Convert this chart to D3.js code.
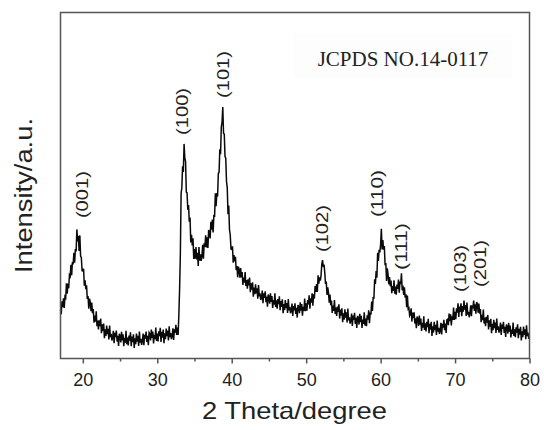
<!DOCTYPE html>
<html>
<head>
<meta charset="utf-8">
<script src="https://cdn.jsdelivr.net/npm/d3@7"></script>
<style>
  html, body { margin: 0; padding: 0; background: #fff; }
  svg { display: block; }
</style>
</head>
<body>
<svg id="chart" width="544" height="430"></svg>
<script>
// XRD scan: 2θ from 17° to 80°, step 0.1° (one row per degree)
const scanStart = 17;
const scanStep = 0.1;
const intensity = [
  146,133,172,154,181,152,186,182,226,195,   // 17
  225,211,251,247,282,250,290,283,318,288,   // 18
  329,322,388,352,369,323,370,308,303,264,   // 19
  263,270,219,235,208,220,179,188,150,180,   // 20
  169,142,168,136,149,108,129,111,142,97,    // 21
  114,87,115,97,120,76,103,83,105,61,        // 22
  88,68,99,73,89,57,99,64,74,54,             // 23
  62,83,46,77,64,84,51,68,38,74,             // 24
  68,48,80,54,73,37,62,48,83,43,             // 25
  63,39,69,54,79,37,66,49,73,32,             // 26
  61,43,75,51,68,38,81,48,59,41,             // 27
  53,75,40,71,60,81,50,68,40,78,             // 28
  74,54,87,62,81,45,71,58,93,53,             // 29
  75,51,82,67,92,50,80,63,87,46,             // 30
  76,58,90,67,84,54,97,64,76,58,             // 31
  68,91,56,88,78,101,71,93,71,133,           // 32
  210,314,496,514,578,561,645,602,592,500,   // 33
  498,447,461,411,424,349,372,340,361,299,   // 34
  329,300,335,298,318,278,335,294,313,293,   // 35
  309,342,300,346,336,370,334,364,332,386,   // 36
  379,361,411,387,418,379,429,428,497,458,   // 37
  497,487,556,560,629,614,696,710,756,677,   // 38
  674,607,602,532,513,434,460,387,372,329,   // 39
  328,337,288,311,292,306,266,278,244,276,   // 40
  266,243,272,244,260,221,243,228,260,218,   // 41
  236,210,238,220,243,199,226,207,229,186,   // 42
  213,193,223,196,211,180,221,187,196,176,   // 43
  183,204,166,196,182,202,169,186,156,192,   // 44
  186,165,196,170,188,152,176,162,196,155,   // 45
  175,150,179,163,187,145,173,155,178,136,   // 46
  164,145,176,151,167,137,179,145,155,136,   // 47
  144,165,128,158,145,166,134,152,123,161,   // 48
  156,136,169,144,164,129,155,143,180,142,   // 49
  166,144,176,163,190,150,181,168,196,159,   // 50
  193,180,218,200,224,200,250,225,244,234,   // 51
  250,284,296,275,282,258,224,231,191,214,   // 52
  197,168,192,160,174,137,159,143,176,134,   // 53
  153,128,156,140,163,120,147,129,151,109,   // 54
  136,117,148,123,139,108,150,115,124,105,   // 55
  113,135,98,129,116,137,104,122,92,128,     // 56
  122,102,134,109,128,92,117,104,139,99,     // 57
  120,97,130,117,145,106,138,132,171,143,    // 58
  185,180,238,224,263,243,318,293,327,319,   // 59
  343,390,328,356,327,338,280,287,233,271,   // 60
  252,223,245,217,234,196,218,203,235,195,   // 61
  216,192,222,209,237,198,231,224,256,205,   // 62
  219,191,214,183,193,154,189,149,152,129,   // 63
  134,151,111,138,121,139,105,121,91,126,    // 64
  120,98,129,102,120,83,107,93,127,86,       // 65
  106,81,110,94,119,76,104,87,110,68,        // 66
  97,78,110,85,101,71,114,81,92,74,          // 67
  84,107,72,104,93,116,85,105,77,116,        // 68
  118,100,135,112,133,99,127,116,153,116,    // 69
  140,118,151,138,166,125,156,140,166,127,   // 70
  158,141,174,147,161,128,168,132,140,124,   // 71
  136,160,127,160,151,174,143,163,135,170,   // 72
  163,138,165,135,149,109,131,115,147,105,   // 73
  123,97,125,108,131,87,115,96,119,76,       // 74
  104,85,116,91,108,77,120,86,97,78,         // 75
  87,108,71,102,89,110,77,95,65,102,         // 76
  96,75,107,81,99,63,87,74,108,68,           // 77
  88,64,94,78,103,61,89,72,95,54,            // 78
  82,64,96,71,88,58,100,67,78,59,            // 79
  68                                         // 80
];

// Miller-index labels: 2θ of the label and intensity level of its lower end
const peakLabels = ["(001)", "(100)", "(101)", "(102)", "(110)", "(111)", "(103)", "(201)"];
const peakAngles = [20.0, 33.46, 38.96, 52.26, 59.65, 62.88, 70.8, 73.49];
const peakLabelBase = [422, 672, 783, 320, 425, 266, 200, 215];

const xTicks = [20, 30, 40, 50, 60, 70, 80];
const xMinorTicks = [25, 35, 45, 55, 65, 75];

const svg = d3.select("#chart");
const plotLeft = 60.5, plotRight = 529.5, plotTop = 12.5, plotBottom = 358.5;

const x = d3.scaleLinear().domain([17, 80]).range([plotLeft, plotRight]);
const y = d3.scaleLinear().domain([0, 1040]).range([plotBottom, plotTop]);

const points = intensity.map((v, i) => [scanStart + i * scanStep, v]);

// Reference card behind the phase note
svg.append("rect")
  .attr("x", 294).attr("y", 33).attr("width", 218).attr("height", 45)
  .attr("fill", "#fdfdfd");

// Pattern trace
svg.append("path")
  .datum(points)
  .attr("fill", "none")
  .attr("stroke", "#0a0a0a")
  .attr("stroke-width", 1.5)
  .attr("stroke-linejoin", "miter")
  .attr("d", d3.line().x(d => x(d[0])).y(d => y(d[1])));

// Frame
svg.append("rect")
  .attr("x", plotLeft).attr("y", plotTop)
  .attr("width", plotRight - plotLeft).attr("height", plotBottom - plotTop)
  .attr("fill", "none").attr("stroke", "#555").attr("stroke-width", 1.5);

// Bottom axis: major ticks with labels, minor ticks between
const xAxis = d3.axisBottom(x).tickValues(xTicks).tickSize(5).tickSizeOuter(0).tickPadding(10);
const gx = svg.append("g").attr("transform", `translate(0,${plotBottom})`).call(xAxis);
gx.select(".domain").remove();
gx.selectAll(".tick line").attr("stroke", "#555").attr("stroke-width", 1.5);
gx.selectAll(".tick text")
  .attr("font-family", "Liberation Sans, Arial, sans-serif")
  .attr("font-size", 18).attr("fill", "#222");

const gxMinor = svg.append("g").attr("transform", `translate(0,${plotBottom})`)
  .call(d3.axisBottom(x).tickValues(xMinorTicks).tickSize(3).tickFormat(""));
gxMinor.select(".domain").remove();
gxMinor.selectAll(".tick line").attr("stroke", "#555").attr("stroke-width", 1.5);

// Axis titles
svg.append("text")
  .attr("x", 294.5).attr("y", 419)
  .attr("text-anchor", "middle")
  .attr("font-family", "Liberation Sans, Arial, sans-serif")
  .attr("font-size", 24).attr("fill", "#222")
  .attr("textLength", 185).attr("lengthAdjust", "spacingAndGlyphs")
  .text("2 Theta/degree");

svg.append("text")
  .attr("transform", "translate(32,195.5) rotate(-90)")
  .attr("text-anchor", "middle")
  .attr("font-family", "Liberation Sans, Arial, sans-serif")
  .attr("font-size", 23).attr("fill", "#222")
  .attr("textLength", 155).attr("lengthAdjust", "spacingAndGlyphs")
  .text("Intensity/a.u.");

// Phase note
svg.append("text")
  .attr("x", 403).attr("y", 66)
  .attr("text-anchor", "middle")
  .attr("font-family", "Liberation Serif, Times New Roman, serif")
  .attr("font-size", 21).attr("fill", "#222")
  .text("JCPDS NO.14-0117");

// Peak index labels, rotated
svg.append("g").selectAll("text")
  .data(peakLabels)
  .join("text")
  .attr("transform", (d, i) => `translate(${x(peakAngles[i]) + 5},${y(peakLabelBase[i])}) rotate(-90)`)
  .attr("text-anchor", "start")
  .attr("font-family", "Liberation Sans, Arial, sans-serif")
  .attr("font-size", 16.5).attr("fill", "#222")
  .attr("textLength", 47).attr("lengthAdjust", "spacingAndGlyphs")
  .text(d => d);
</script>
</body>
</html>
